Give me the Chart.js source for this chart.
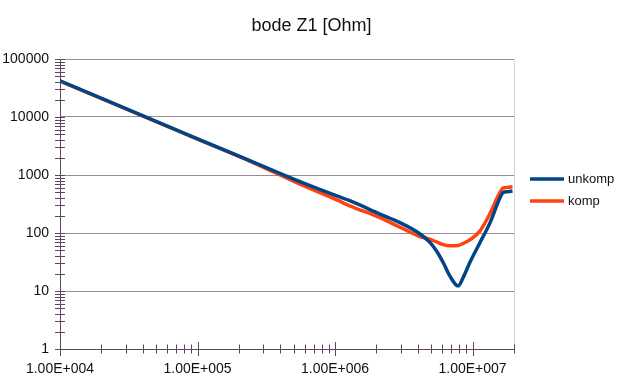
<!DOCTYPE html>
<html>
<head>
<meta charset="utf-8">
<script src="https://cdn.jsdelivr.net/npm/chart.js@4.4.1/dist/chart.umd.min.js"></script>
<style>
    html, body { margin: 0; padding: 0; background: #fff; }
    #wrap { width: 623px; height: 377px; }
</style>
</head>
<body>
<div id="wrap"><canvas id="myChart"></canvas></div>
<script>
// frequency [Hz] and impedance [Ohm]
let freq    = [1e4, 1e5, 2.4e5, 5.5e5, 1.03e6, 1.28e6, 2.12e6, 2.96e6, 4.13e6, 4.89e6, 5.47e6, 6.11e6, 6.83e6, 7.85e6, 8.53e6, 9.55e6, 1.13e7, 1.33e7, 1.58e7, 1.67e7, 1.8e7, 1.95e7];
let unkomp  = [42000, 4200, 1770, 775, 435, 360, 212, 151, 97, 69, 49, 31, 18.2, 12.2, 17, 31, 68, 145, 400, 500, 515, 530];
let komp    = [41500, 4150, 1740, 700, 372, 294, 184, 126, 87, 78, 70, 63, 60, 61, 66, 76, 108, 210, 500, 600, 612, 625];

let seriesNames  = ['unkomp', 'komp'];
let seriesColors = ['#004586', '#ff420e'];
let chartTitle = 'bode Z1 [Ohm]';

let xTickValues = [1e4, 1e5, 1e6, 1e7];
let xTickLabels = ['1.00E+004', '1.00E+005', '1.00E+006', '1.00E+007'];
let yTickValues = [1, 10, 100, 1000, 10000, 100000];
let yTickLabels = ['1', '10', '100', '1000', '10000', '100000'];
let xMin = 1e4, xMax = 2e7;

const gridColor = '#9a889a';
const axisColor = '#5e465e';
const textColor = '#111';
const fontFam = '"Liberation Sans", Arial, sans-serif';

// minor tick values 2..9 inside each decade
minorTicks = (lo, hi) => {
    let out = [];
    for (let d = lo; d < hi; d *= 10) {
        for (let m = 2; m <= 9; m++) {
            if (m * d <= hi) out.push(m * d);
        }
    }
    return out;
}
let xMinor = minorTicks(1e4, xMax);
let yMinor = minorTicks(1, 1e5);

let toPoints = (vals) => freq.map((f, i) => ({ x: f, y: vals[i] }));

// tick marks that cross the axis lines
const crossTicks = {
    id: 'crossTicks',
    afterDraw(chart) {
        let c = chart.ctx, a = chart.chartArea;
        let xs = chart.scales.x, ys = chart.scales.y;
        c.save();
        c.strokeStyle = axisColor;
        c.lineWidth = 1;
        c.beginPath();
        yMinor.concat(yTickValues).forEach(v => {
            let py = Math.round(ys.getPixelForValue(v)) + 0.5;
            c.moveTo(a.left - 5, py);
            c.lineTo(a.left + 5, py);
        });
        xMinor.forEach(v => {
            let px = Math.round(xs.getPixelForValue(v)) + 0.5;
            c.moveTo(px, a.bottom - 4.5);
            c.lineTo(px, a.bottom + 4.5);
        });
        xTickValues.forEach(v => {
            let px = Math.round(xs.getPixelForValue(v)) + 0.5;
            c.moveTo(px, a.bottom - 7);
            c.lineTo(px, a.bottom + 7);
        });
        c.stroke();
        c.restore();
    }
};

// title centred on the whole canvas, legend to the right of the plot
const titleAndLegend = {
    id: 'titleAndLegend',
    afterDraw(chart) {
        let c = chart.ctx, a = chart.chartArea;
        c.save();
        c.fillStyle = textColor;
        c.textBaseline = 'middle';
        c.textAlign = 'center';
        c.font = '18px ' + fontFam;
        c.fillText(chartTitle, chart.width / 2, 26);

        c.font = '13px ' + fontFam;
        c.textAlign = 'left';
        chart.data.datasets.forEach((ds, i) => {
            let yy = a.top + 120 + i * 22;
            c.strokeStyle = ds.borderColor;
            c.lineWidth = 3.5;
            c.beginPath();
            c.moveTo(a.right + 16, yy);
            c.lineTo(a.right + 50, yy);
            c.stroke();
            c.fillStyle = textColor;
            c.fillText(ds.label, a.right + 54, yy);
        });
        c.restore();
    }
};

let ctx = document.getElementById('myChart').getContext('2d');
let myChart = new Chart(ctx, {
    type: 'scatter',
    data: {
        datasets: [unkomp, komp].map((vals, i) => ({
            label: seriesNames[i],
            data: toPoints(vals),
            showLine: true,
            borderColor: seriesColors[i],
            backgroundColor: seriesColors[i],
            borderWidth: 3.5,
            pointRadius: 0,
            cubicInterpolationMode: 'monotone'
        }))
    },
    options: {
        responsive: true,
        maintainAspectRatio: false,
        animation: false,
        layout: { padding: { left: 0, right: 109, top: 59, bottom: 0 } },
        plugins: {
            legend: { display: false },
            tooltip: { enabled: false },
            title: { display: false }
        },
        scales: {
            x: {
                type: 'logarithmic',
                min: xMin,
                max: xMax,
                afterBuildTicks: (scale) => {
                    scale.ticks = xTickValues.concat(xMinor).sort((p, q) => p - q).map(v => ({ value: v }));
                },
                afterFit: (scale) => { scale.height = 28; },
                ticks: {
                    autoSkip: false,
                    maxRotation: 0,
                    padding: 12,
                    color: textColor,
                    font: { family: fontFam, size: 14 },
                    callback: (v) => {
                        let i = xTickValues.indexOf(v);
                        return i >= 0 ? xTickLabels[i] : '';
                    }
                },
                grid: {
                    drawTicks: false,
                    color: (c) => (c.tick && c.tick.value === xMax) ? '#d6d6d6' : 'rgba(0,0,0,0)'
                },
                border: { display: true, color: axisColor, width: 1 }
            },
            y: {
                type: 'logarithmic',
                min: 1,
                max: 100000,
                afterBuildTicks: (scale) => {
                    scale.ticks = yTickValues.map(v => ({ value: v }));
                },
                afterFit: (scale) => { scale.width = 60; },
                ticks: {
                    autoSkip: false,
                    padding: 11,
                    color: textColor,
                    font: { family: fontFam, size: 14 },
                    callback: (v) => {
                        let i = yTickValues.indexOf(v);
                        return i >= 0 ? yTickLabels[i] : '';
                    }
                },
                grid: {
                    drawTicks: false,
                    color: gridColor
                },
                border: { display: true, color: axisColor, width: 1 }
            }
        }
    },
    plugins: [crossTicks, titleAndLegend]
});
</script>
</body>
</html>
